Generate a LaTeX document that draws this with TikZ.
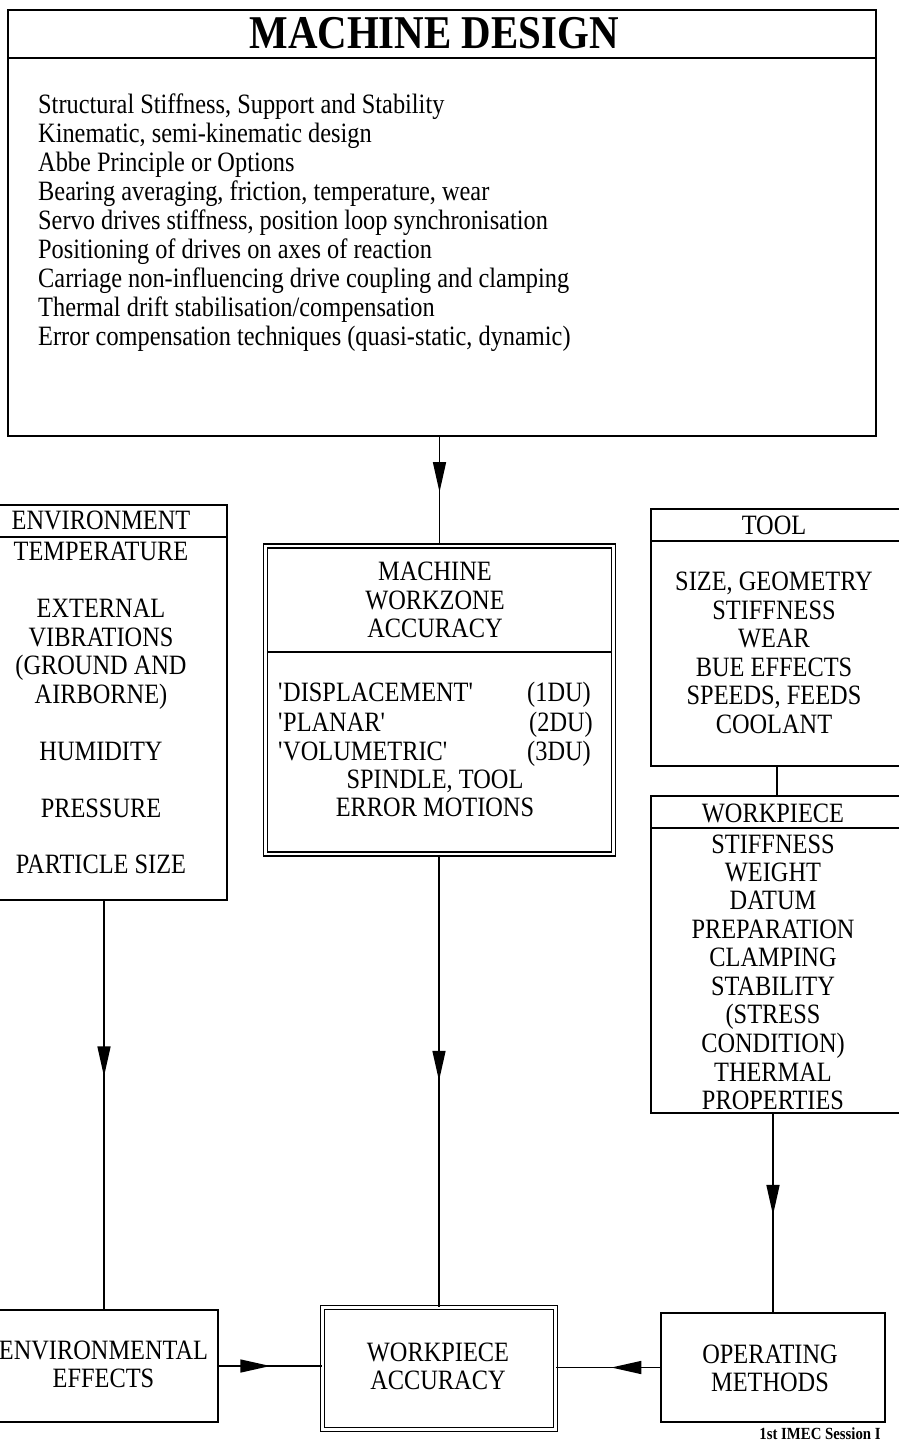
\documentclass[tikz,border=0pt]{standalone}
\usepackage{fontspec}
\setmainfont{Liberation Serif}[FakeStretch=0.87]
\usetikzlibrary{arrows.meta,decorations.markings}

\begin{document}
\begin{tikzpicture}[x = 1pt, y = -1pt,
  box/.style = {draw, line width = 1.7pt, inner sep = 0pt},
  dbox/.style = {draw, line width = 1.6pt, double, double distance = 2.2pt, inner sep = 0pt},
  txt/.style = {inner sep = 0pt, anchor = base, font = \fontsize{28}{33}\selectfont},
  ltxt/.style = {txt, anchor = base west},
  rtxt/.style = {txt, anchor = base east},
  link/.style = {line width = 1.5pt},
  midarrow/.style = {link, postaction = {decorate},
    decoration = {markings, mark = at position #1 with {\arrow{Triangle[length = 30pt, width = 13pt]}}}}]
\useasboundingbox (0,0) rectangle (899,1443);
\clip (0,0) rectangle (899,1443);

% machine design
\node[box, minimum width = 868pt, minimum height = 426pt] (design) at (442,223) {};
\draw[link] (8,58) -- (876,58);
\node[txt, font = \fontsize{47}{56}\selectfont\bfseries] (title) at (434,48) {MACHINE DESIGN};
\foreach \txt [count = \i] in {{Structural Stiffness, Support and Stability},
    {Kinematic, semi-kinematic design}, {Abbe Principle or Options},
    {Bearing averaging, friction, temperature, wear},
    {Servo drives stiffness, position loop synchronisation},
    {Positioning of drives on axes of reaction},
    {Carriage non-influencing drive coupling and clamping},
    {Thermal drift stabilisation/compensation},
    {Error compensation techniques (quasi-static, dynamic)}}
  \node[ltxt] (design-\i) at (38, 113 + 29*\i - 29) {\txt};

% environment
\node[box, minimum width = 237pt, minimum height = 395pt] (env) at (108.5,702.5) {};
\draw[link] (-10,537) -- (227,537);
\foreach \y/\txt [count = \i] in {520/ENVIRONMENT, 551/TEMPERATURE, 608/EXTERNAL,
    637/VIBRATIONS, 665/(GROUND AND, 694/AIRBORNE), 751/HUMIDITY, 808/PRESSURE,
    864/PARTICLE SIZE}
  \node[txt] (env-\i) at (101, \y + 9) {\txt};

% machine workzone accuracy
\node[dbox, minimum width = 348pt, minimum height = 308pt] (zone) at (439.5,700) {};
\draw[link] (268,652) -- (611,652);
\foreach \y/\txt [count = \i] in {571/MACHINE, 600/WORKZONE, 628/ACCURACY,
    779/{SPINDLE, TOOL}, 807/ERROR MOTIONS}
  \node[txt] (zone-\i) at (435, \y + 9) {\txt};
\node[ltxt] (zone-disp) at (278,701) {\textquotesingle DISPLACEMENT\textquotesingle};
\node[rtxt] (zone-1du) at (591,701) {(1DU)};
\node[ltxt] (zone-plan) at (278,731) {\textquotesingle PLANAR\textquotesingle};
\node[rtxt] (zone-2du) at (593,731) {(2DU)};
\node[ltxt] (zone-vol) at (278,760) {\textquotesingle VOLUMETRIC\textquotesingle};
\node[rtxt] (zone-3du) at (591,760) {(3DU)};

% tool
\node[box, minimum width = 252pt, minimum height = 257pt] (tool) at (777,637.5) {};
\draw[link] (651,541) -- (903,541);
\foreach \y/\txt [count = \i] in {525/TOOL, 581/{SIZE, GEOMETRY}, 610/STIFFNESS,
    638/WEAR, 667/BUE EFFECTS, 695/{SPEEDS, FEEDS}, 724/COOLANT}
  \node[txt] (tool-\i) at (774, \y + 9) {\txt};

% workpiece
\node[box, minimum width = 252pt, minimum height = 317pt] (piece) at (777,954.5) {};
\draw[link] (651,828) -- (903,828);
\foreach \y/\txt [count = \i] in {813/WORKPIECE, 844/STIFFNESS, 872/WEIGHT,
    900/DATUM, 929/PREPARATION, 957/CLAMPING, 986/STABILITY, 1014/(STRESS,
    1043/CONDITION), 1072/THERMAL, 1100/PROPERTIES}
  \node[txt] (piece-\i) at (773, \y + 9) {\txt};

% bottom row
\node[box, minimum width = 228pt, minimum height = 112pt] (effects) at (104,1366) {};
\node[txt] (effects-1) at (103.5,1359) {ENVIRONMENTAL};
\node[txt] (effects-2) at (103.5,1387) {EFFECTS};
\node[dbox, minimum width = 233pt, minimum height = 122pt] (accuracy) at (439,1368.5) {};
\node[txt] (accuracy-1) at (438,1361) {WORKPIECE};
\node[txt] (accuracy-2) at (438,1389) {ACCURACY};
\node[box, minimum width = 224pt, minimum height = 109pt] (methods) at (773,1367.5) {};
\node[txt] (methods-1) at (770,1363) {OPERATING};
\node[txt] (methods-2) at (770,1391) {METHODS};
\node[txt, font = \fontsize{17}{20}\selectfont\bfseries] (credit) at (820,1439) {1st IMEC Session I};

% connectors
\draw[midarrow = 0.51] (zone.north |- design.south) -- (zone.north);
\draw[midarrow = 0.43] (effects.north |- env.south) -- (effects.north);
\draw[midarrow = 0.50] (accuracy.north |- zone.south) -- (accuracy.north);
\draw[link] (tool.south) -- (piece.north);
\draw[midarrow = 0.51] (methods.north |- piece.south) -- (methods.north);
\draw[midarrow = 0.50] (effects.east) -- (effects.east -| accuracy.west);
\draw[midarrow = 0.47] (methods.west) -- (methods.west -| accuracy.east);
\end{tikzpicture}
\end{document}
